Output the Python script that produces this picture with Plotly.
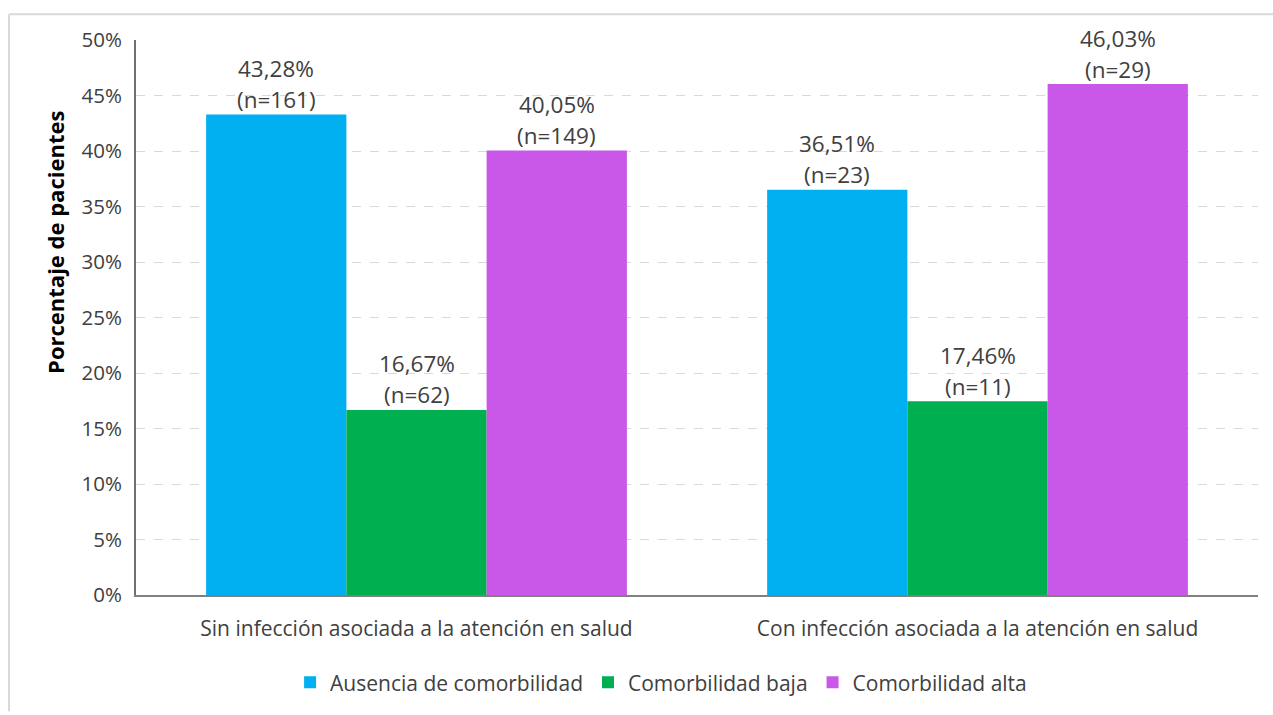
import plotly.graph_objects as go

categories = ["Sin infección asociada a la atención en salud",
              "Con infección asociada a la atención en salud"]
series_names = ["Ausencia de comorbilidad", "Comorbilidad baja", "Comorbilidad alta"]
ausencia = [43.28, 36.51]
baja = [16.67, 17.46]
alta = [40.05, 46.03]
ausencia_n = [161, 23]
baja_n = [62, 11]
alta_n = [149, 29]
y_ticks = [0, 5, 10, 15, 20, 25, 30, 35, 40, 45, 50]

colors = ["#00B0F0", "#00B050", "#C957E8"]
values = [ausencia, baja, alta]
counts = [ausencia_n, baja_n, alta_n]

FONT = "Open Sans"
TXT = "#404040"

fig = go.Figure()
for name, vals, col in zip(series_names, values, colors):
    fig.add_trace(go.Bar(name=name, x=categories, y=vals, marker=dict(color=col, line=dict(width=0)),
                         hoverinfo="skip"))

L, R, T, B = 136, 15, 40, 117
W, H = 1273, 715
pw, ph = W - L - R, H - T - B

annotations = []
nser = len(series_names)
bar_w = (1 - 0.25) / nser
for j, (vals, ns) in enumerate(zip(values, counts)):
    for i, (v, n) in enumerate(zip(vals, ns)):
        xpos = i + (j - (nser - 1) / 2) * bar_w
        pct = f"{v:.2f}%".replace(".", ",")
        annotations.append(dict(x=xpos, y=v, xref="x", yref="y", text=f"(n={n})", showarrow=False,
                                yanchor="middle", yshift=15, font=dict(family=FONT, size=22.5, color=TXT)))
        annotations.append(dict(x=xpos, y=v, xref="x", yref="y", text=pct, showarrow=False,
                                yanchor="middle", yshift=46, font=dict(family=FONT, size=22.5, color=TXT)))

# y-axis title (placed off-centre as in the original)
annotations.append(dict(text="<b>Porcentaje de pacientes</b>", xref="paper", yref="paper",
                        x=(55 - L) / pw, y=1 - (244 - T) / ph, xanchor="center", yanchor="middle",
                        textangle=-90, showarrow=False,
                        font=dict(family=FONT, size=22, color="#000000")))

fx = (9 - L) / pw
fy = 1 + (T - 14) / ph

shapes = [
    dict(type="line", xref="paper", yref="paper", x0=fx, x1=(W - L) / pw, y0=fy, y1=fy,
         line=dict(color="#D9D9D9", width=2)),
    dict(type="line", xref="paper", yref="paper", x0=fx, x1=fx, y0=fy, y1=-B / ph,
         line=dict(color="#D9D9D9", width=2)),
]

fig.update_layout(
    width=W, height=H,
    margin=dict(l=L, r=R, t=T, b=B, pad=0),
    paper_bgcolor="white", plot_bgcolor="white",
    barmode="group", bargap=0.25, bargroupgap=0,
    font=dict(family=FONT, size=20, color=TXT),
    annotations=annotations,
    shapes=shapes,
    legend=dict(orientation="h", x=0.468, xanchor="center", y=-0.158, yanchor="middle",
                font=dict(family=FONT, size=21, color=TXT), traceorder="normal",
                itemwidth=30),
    xaxis=dict(showline=True, linecolor="#808080", linewidth=2, ticks="", tickfont=dict(size=21, color=TXT),
               ticklabelstandoff=14,
               showgrid=False, fixedrange=True),
    yaxis=dict(range=[0, 50], tickvals=y_ticks, ticktext=[f"{t}%" for t in y_ticks],
               showline=True, linecolor="#707070", linewidth=2, ticks="",
               ticklabelstandoff=8,
               showgrid=True, gridcolor="#D9D9D9", griddash="dash", gridwidth=1,
               zeroline=False, tickfont=dict(size=20.5, color=TXT)),
)

fig.write_html("out.html")
